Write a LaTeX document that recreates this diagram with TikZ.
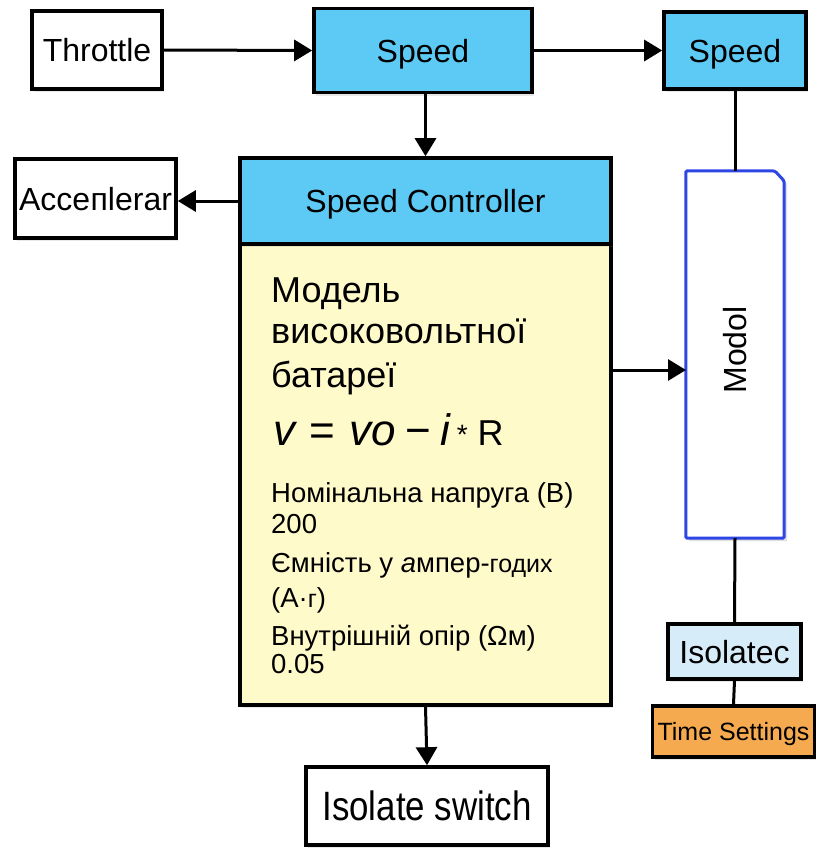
\documentclass[tikz,border=0pt]{standalone}
\usepackage{fontspec}
\setmainfont{Liberation Sans}
\usetikzlibrary{arrows.meta,shadows}

\definecolor{hdrcyan}{RGB}{92,202,245}
\definecolor{bodyyellow}{RGB}{255,250,202}
\definecolor{paleblue}{RGB}{214,236,249}
\definecolor{tsorange}{RGB}{246,170,80}
\definecolor{modolblue}{RGB}{46,70,230}

\newcommand\setfs[1]{\fontsize{#1}{#1}\selectfont}

\tikzset{
  blk/.style={draw=black, line width=3.6pt, fill=white, inner sep=0pt,
    text depth=0pt,
    drop shadow={opacity=0.18, shadow xshift=2pt, shadow yshift=-3pt}},
  cyanblk/.style={blk, fill=hdrcyan},
  lbl/.style={font=\setfs{32}, text height=23pt},
  txt/.style={anchor=base west, inner sep=0pt},
  link/.style={line width=3pt},
  arr/.style={link, -{Triangle[length=18pt,width=21pt]}},
}

\begin{document}
\begin{tikzpicture}[x=1pt, y=-1pt]
  \useasboundingbox (0,0) rectangle (816,849);

  % top row
  \node[blk, lbl, minimum width=130pt, minimum height=78pt] (thr) at (97,50) {Throttle};
  \node[cyanblk, lbl, minimum width=218pt, minimum height=84pt] (spd) at (423,50.5) {Speed};
  \node[cyanblk, lbl, minimum width=142pt, minimum height=77pt] (spdR) at (735,50.5) {Speed};

  % speed controller block: yellow body with a cyan title strip
  \node[blk, fill=bodyyellow, minimum width=371pt, minimum height=547pt] (sc) at (425.5,431.5) {};
  \node[cyanblk, lbl, minimum width=371pt, minimum height=86pt, drop shadow={opacity=0}] (scHead) at (425.5,201) {Speed Controller};

  \node[blk, lbl, minimum width=161pt, minimum height=79pt] (acc) at (95.5,198.5) {Acce\kern0.5pt пlerar};

  % battery model text
  \node[txt, font=\setfs{36}] (l1) at (271,302) {Модель};
  \node[txt, font=\setfs{36}] (l2) at (271,343) {високовольтної};
  \node[txt, font=\setfs{36}] (l3) at (271,387) {батареї};
  \node[txt] (eq) at (273,445) {\setfs{44}\itshape v\hspace{14pt}\upshape=\hspace{15pt}\itshape vo\hspace{9pt}\upshape−\hspace{9pt}\itshape i\hspace{7pt}\upshape{\setfs{28}\raisebox{1pt}{*}}\hspace{10pt}{\setfs{36}R}};
  \node[txt, font=\setfs{27.5}] (l4) at (271,502) {Номінальна напруга (В)};
  \node[txt, font=\setfs{27.5}] (l5) at (271,533) {200};
  \node[txt, font=\setfs{27.5}] (l6) at (271,572) {Ємність у \textit{а}мпер-{\setfs{25}годих}};
  \node[txt, font=\setfs{27.5}] (l7) at (271,607) {(А·{\setfs{25}г})};
  \node[txt, font=\setfs{27.5}] (l8) at (271,645) {Внутрішній опір (Ωм)};
  \node[txt, font=\setfs{27.5}] (l9) at (271,673) {0.05};

  % tall model block with a clipped corner
  \node[minimum width=98pt, minimum height=367pt, inner sep=0pt] (modol) at (735,354.5) {};
  \fill[black, opacity=0.12] (689,175) -- (778,175) -- (787,184) -- (787,541) -- (689,541) -- cycle;
  \draw[modolblue, fill=white, line width=3pt, rounded corners=1.5pt]
    (modol.north west) -- (775,171) -- (modol.north east |- 0,181) -- (modol.south east) -- (modol.south west) -- cycle;
  \node[rotate=90, font=\setfs{32}, inner sep=0pt] (modolT) at (735,350) {Modol};

  % lower right blocks
  \node[blk, lbl, fill=paleblue, minimum width=133pt, minimum height=55pt] (iso) at (734.5,651.5) {Isolatec};
  \node[blk, font=\setfs{25}, text height=18pt, fill=tsorange, minimum width=162pt, minimum height=51pt] (ts) at (733.5,731.5) {Time Settings};

  % bottom block
  \node[blk, text height=29.5pt, minimum width=242pt, minimum height=78pt] (sw) at (427,806) {\setfs{41}\scalebox{0.85}[1]{Isolate switch}};

  % connectors
  \coordinate (mIn) at (686,370);
  \draw[arr] (thr.east) -- (spd.west);
  \draw[arr] (spd.east) -- (spdR.west);
  \draw[arr] (spd.south -| 425.5,0) -- (scHead.north);
  \draw[arr] (scHead.west) -- (scHead.west -| acc.east);
  \draw[arr] (sc.east |- mIn) -- (mIn);
  \draw[arr] (sc.south) -- (sw.north);
  \draw[link] (spdR.south) -- (modol.north);
  \draw[link] (modol.south) -- (iso.north);
  \draw[link] (iso.south) -- (ts.north);
\end{tikzpicture}
\end{document}
